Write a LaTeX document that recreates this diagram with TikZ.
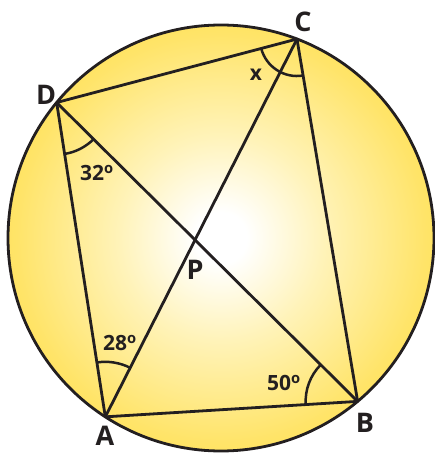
\documentclass[tikz,border=0pt]{standalone}
\usepackage{fontspec}
\setmainfont{Open Sans}
\usepackage{tikz}
\usetikzlibrary{angles,calc,positioning}

\definecolor{ink}{RGB}{35,31,32}
\definecolor{sunlight}{RGB}{255,243,185}
\definecolor{sunpale}{RGB}{255,228,105}
\definecolor{sunmid}{RGB}{255,218,45}
\definecolor{sundeep}{RGB}{255,212,18}
\pgfdeclareradialshading{sunfill}{\pgfpoint{0bp}{0bp}}{%
  color(0bp)=(white); color(3bp)=(white); color(12bp)=(sunlight);
  color(24bp)=(sunpale); color(36bp)=(sunmid); color(50bp)=(sundeep);
  color(100bp)=(sundeep)}

\begin{document}
\begin{tikzpicture}[x=1pt, y=1pt, line width=2.8pt, draw=ink, line join=round,
  lbl/.style={font=\bfseries\fontsize{27}{30}\selectfont, text=ink, inner sep=0pt},
  deg/.style={font=\bfseries\fontsize{21}{24}\selectfont, text=ink, inner sep=0pt},
  anglemark/.style={draw=ink, line width=2.5pt, angle radius=#1}]
\useasboundingbox (0,0) rectangle (435,453);
% circle and the four points on it
\coordinate (O) at (221,215);
\shade[shading=sunfill] (O) circle (213);
\draw (O) circle (213);
\coordinate (C) at ($(O)+(69.1:213)$);
\coordinate (D) at ($(O)+(140.5:213)$);
\coordinate (A) at ($(O)+(237.1:213)$);
\coordinate (B) at ($(O)+(309.9:213)$);
% quadrilateral and diagonals
\draw (A) -- (B) -- (C) -- (D) -- cycle;
\draw (A) -- (C);
\draw (D) -- (B);
\coordinate (P) at (intersection of A--C and D--B);
% angle marks
\pic [anglemark=37] {angle = D--C--B};
\pic [anglemark=52] {angle = A--D--B};
\pic [anglemark=55] {angle = C--A--D};
\pic [anglemark=52] {angle = D--B--A};
% labels
\node (labC) [lbl] at (303,431) {C};
\node (labD) [lbl] at (46,358) {D};
\node (labA) [lbl] at (105,17) {A};
\node (labB) [lbl] at (365,30) {B};
\node (labP) [lbl, below=19pt of P] {P};
\node (angC) [deg] at (256,378) {x};
\node (angD) [deg] at (97,280) {32\textsuperscript{o}};
\node (angA) [deg] at (120,110) {28\textsuperscript{o}};
\node (angB) [deg] at (284,70) {50\textsuperscript{o}};
\end{tikzpicture}
\end{document}
